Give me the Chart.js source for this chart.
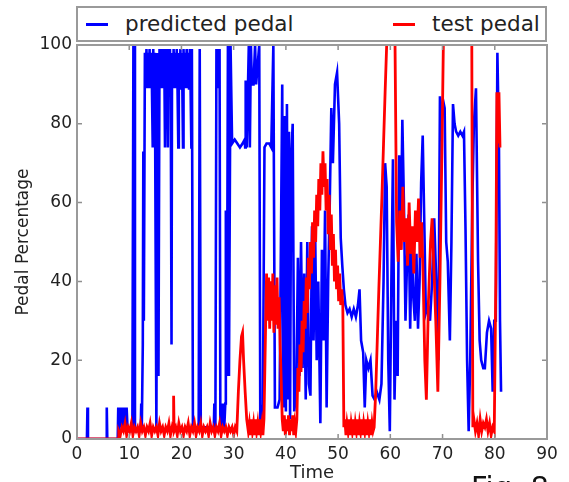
<!DOCTYPE html>
<html>
<head>
<meta charset="utf-8">
<script src="https://cdn.jsdelivr.net/npm/chart.js@4.4.1/dist/chart.umd.min.js"></script>
<style>
html,body{margin:0;padding:0;background:#fff;overflow:hidden;width:569px;height:482px;}
#wrap{position:relative;width:569px;height:482px;overflow:hidden;}
#c{position:absolute;left:0;top:0;}
.legend{position:absolute;left:76px;top:6px;width:467px;height:32px;border:2px solid #9a9a9a;background:#fff;font-family:'DejaVu Sans',sans-serif;font-size:21.5px;color:#222;}
.legend .sw{position:absolute;top:15px;width:22px;height:2.5px;}
.legend .tx{position:absolute;top:0;line-height:32px;white-space:nowrap;}
.fig{position:absolute;left:471px;top:473px;font-family:'DejaVu Sans',sans-serif;font-size:29px;line-height:29px;color:#111;white-space:nowrap;}
</style>
</head>
<body>
<div id="wrap">
<canvas id="c" width="569" height="482"></canvas>
<div class="legend">
  <div class="sw" style="left:8px;background:#0000ff;"></div>
  <div class="tx" style="left:47px;">predicted pedal</div>
  <div class="sw" style="left:315px;background:#ff0000;"></div>
  <div class="tx" style="left:354px;">test pedal</div>
</div>
<div class="fig">Fig. 8</div>
</div>
<script>
const xTicks = [0,10,20,30,40,50,60,70,80,90];
const yTicks = [0,20,40,60,80,100];

const predTime = [0,1.9,2.0,2.1,5.6,5.7,5.8,7.8,7.9,8.1,8.3,8.5,8.7,8.9,9.1,9.3,9.5,9.7,10.6,10.8,11.0,11.1,12.2,12.3,12.4,12.6,12.7,12.8,13.0,13.15,13.3,13.45,13.6,13.75,13.9,14.05,14.2,14.35,14.5,14.6,14.75,14.9,15.2,15.4,15.6,15.8,15.95,16.1,16.25,16.4,16.55,16.7,16.85,16.95,17.1,17.25,17.4,17.5,17.65,17.8,17.95,18.1,18.2,18.35,18.5,18.65,18.8,18.95,19.1,19.25,19.4,19.5,19.65,19.8,19.95,20.1,20.3,20.4,20.55,20.7,20.85,21.0,21.15,21.3,21.45,21.6,21.75,21.9,22.0,22.2,23.3,23.5,23.7,26.2,26.3,26.5,26.7,26.85,27.0,27.15,27.3,27.45,27.6,27.8,28.0,28.2,28.4,28.5,28.7,28.9,29.1,29.4,29.7,30.2,30.7,31.2,31.7,32.1,32.2,32.3,32.5,32.9,33.1,33.3,33.5,33.8,34.1,34.3,34.9,35.1,35.4,35.6,35.9,36.3,36.8,37.2,37.6,37.9,38.4,38.8,39.3,39.5,39.8,40.0,40.2,40.4,40.6,40.8,41.0,41.3,41.6,42.0,42.3,42.6,42.9,43.2,43.5,43.8,44.1,44.4,44.7,45.0,45.3,45.6,45.9,46.2,46.6,46.9,47.2,47.5,47.8,48.1,48.4,48.7,49.0,49.4,49.8,50.2,50.5,50.8,51.1,51.4,51.8,52.2,52.6,53.0,53.4,53.8,54.1,54.4,54.8,55.1,55.4,55.8,56.2,56.6,57.0,57.4,57.9,58.3,58.7,59.0,59.3,59.6,59.9,60.2,60.5,60.8,61.1,61.4,61.7,62.0,62.3,62.6,62.9,63.2,63.5,63.8,64.1,64.4,64.7,65.0,65.3,65.6,65.9,66.2,66.5,66.8,67.2,67.6,68.0,68.4,68.8,69.2,69.5,69.8,70.1,70.4,70.7,71.0,71.4,71.7,72.0,72.3,72.6,73.0,73.4,73.8,74.1,74.4,74.7,75.0,75.3,75.7,76.0,76.4,76.8,77.1,77.4,77.8,78.1,78.5,78.9,79.3,79.6,79.9,80.2,80.5,80.8,81.0,81.2];
const predicted = [0,0,8,0,0,8,0,0,8,2,8,3,8,2,8,3,8,2,2,100,100,2,2,9,2,24,73,30,98,89,99,89,98,89,99,89,98,89,74,99,89,98,3,98,16,99,89,99,89,98,89,99,74,98,89,99,74,98,89,99,89,24,98,89,99,89,98,89,99,89,74,98,89,99,89,98,74,99,89,98,89,99,89,98,89,99,89,74,99,3,3,99,3,3,9,3,99,89,99,89,99,3,9,3,9,3,9,58,16,100,16,100,75,76,75,74,75,76,74,91,74,100,74,100,90,90,100,90,100,2,2,9,74,75,75,74,100,8,8,10,90,8,82,7,85,10,78,5,70,80,7,12,46,16,50,18,42,10,50,14,11,54,25,53,20,40,4,48,25,58,8,40,60,84,70,90,93,80,51,44,38,34,32,33,31,33,31,34,38,25,22,8,20,18,20,11,10,12,10,14,40,70,64,20,2,40,71,10,30,16,72,50,81,60,30,45,57,28,50,36,30,47,28,40,65,77,55,32,34,30,40,56,40,20,87,80,86,84,50,45,25,50,85,80,78,77,78,77,78,53,20,2,20,60,80,89,45,25,20,18,18,27,30,28,12,30,30,98,75,30,12];

const testTime = [0,7.9,8.0,8.3,8.6,8.9,9.2,9.5,9.8,10.1,10.4,10.7,11.0,11.3,11.6,11.9,12.2,12.5,12.8,13.1,13.4,13.7,14.0,14.3,14.6,14.9,15.2,15.5,15.8,16.1,16.4,16.7,17.0,17.3,17.6,17.9,18.2,18.4,18.5,18.6,18.9,19.2,19.5,19.8,20.1,20.4,20.7,21.0,21.3,21.6,21.9,22.2,22.5,22.8,23.1,23.4,23.7,24.0,24.3,24.6,24.9,25.2,25.5,25.8,26.1,26.4,26.7,27.0,27.3,27.6,27.9,28.2,28.5,28.8,29.1,29.4,29.7,30.0,30.3,30.6,30.9,31.2,31.5,31.7,31.9,32.2,32.5,32.8,33.0,33.2,33.4,33.6,33.8,34.0,34.2,34.4,34.6,34.8,35.0,35.2,35.4,35.6,35.8,36.0,36.3,36.5,36.7,36.9,37.1,37.3,37.5,37.7,37.9,38.1,38.3,38.5,38.7,38.9,39.1,39.3,39.5,39.7,39.9,40.1,40.3,40.5,40.7,40.9,41.1,41.3,41.5,41.7,41.9,42.1,42.3,42.5,42.7,42.9,43.1,43.3,43.5,43.7,43.9,44.1,44.3,44.5,44.7,44.9,45.1,45.3,45.5,45.7,45.9,46.1,46.3,46.5,46.7,46.9,47.1,47.3,47.5,47.7,47.9,48.1,48.3,48.5,48.7,48.9,49.1,49.3,49.5,49.7,49.9,50.1,50.3,50.5,50.7,50.9,51.1,51.3,51.5,51.7,51.9,52.1,52.3,52.5,52.7,52.9,53.1,53.3,53.5,53.7,53.9,54.1,54.3,54.5,54.7,54.9,55.1,55.3,55.5,55.7,55.9,56.1,56.3,56.5,56.7,56.9,57.2,57.5,57.8,58.1,58.4,58.7,59.0,59.3,59.6,60.2,60.8,61.2,61.5,61.8,62.1,62.4,62.7,63.0,63.3,63.6,63.9,64.2,64.5,64.8,65.1,65.4,65.7,66.0,66.3,66.6,66.9,67.3,67.7,68.0,68.3,68.7,69.1,69.5,69.9,70.3,70.7,75.3,75.6,75.8,76.0,76.3,76.6,76.9,77.2,77.5,77.8,78.1,78.4,78.7,79.0,79.3,79.6,79.9,80.2,80.4,80.6,80.8,81.0,81.2];
const testPedal = [0,0,2,1,3,2,4,1,3,2,4,1,3,2,3,1,4,2,3,1,3,2,4,1,3,2,3,1,4,2,3,1,3,2,4,1,3,2,11,2,3,1,4,2,3,1,3,2,4,1,3,2,4,1,3,2,4,1,3,2,3,1,4,2,3,1,3,2,4,1,3,2,3,1,3,2,3,1,3,2,12,20,26,27,20,12,5,2,4,1,5,2,4,1,5,2,4,1,5,2,4,1,5,20,42,30,41,28,40,30,42,27,39,29,41,28,36,24,15,5,2,6,1,5,2,6,1,5,2,6,1,4,2,5,18,12,24,17,30,22,35,28,41,32,46,38,50,42,55,46,58,50,62,54,66,58,70,62,73,64,70,58,66,52,62,48,57,44,52,40,48,38,44,35,42,34,38,34,3,5,1,4,2,5,1,4,2,5,1,4,2,5,1,4,2,5,1,4,2,5,1,4,2,5,1,4,2,3,12,25,38,50,62,75,88,100,115,115,115,55,45,58,48,64,50,56,44,60,47,54,42,58,50,61,46,55,40,20,10,35,50,56,45,30,12,40,75,115,115,115,100,3,5,2,4,1,5,2,4,3,5,2,4,1,3,2,40,88,75,88,74];

const predPts = predTime.map((t,i)=>({x:t,y:predicted[i]}));
const testPts = testTime.map((t,i)=>({x:t,y:testPedal[i]}));

const FONT = "'DejaVu Sans', sans-serif";

const frame = {
  id:'frame',
  afterDatasetsDraw(chart){
    const {ctx, chartArea:a, scales:{x,y}} = chart;
    ctx.save();
    ctx.strokeStyle = '#8f8f8f';
    ctx.lineWidth = 1.5;
    ctx.beginPath();
    x.ticks.forEach(t=>{
      const p = x.getPixelForValue(t.value);
      ctx.moveTo(p, a.bottom); ctx.lineTo(p, a.bottom-5);
      ctx.moveTo(p, a.top); ctx.lineTo(p, a.top+5);
    });
    y.ticks.forEach(t=>{
      const p = y.getPixelForValue(t.value);
      ctx.moveTo(a.left, p); ctx.lineTo(a.left+5, p);
      ctx.moveTo(a.right, p); ctx.lineTo(a.right-5, p);
    });
    ctx.stroke();
    ctx.strokeStyle = '#9a9a9a';
    ctx.lineWidth = 2;
    ctx.strokeRect(a.left, a.top, a.width, a.height);
    ctx.restore();
  }
};

new Chart(document.getElementById('c'), {
  type: 'line',
  data: {
    datasets: [
      {label:'predicted pedal', data: predPts, borderColor:'#0000ff', backgroundColor:'#0000ff', borderWidth:2.6, pointRadius:0, tension:0, clip:0, order:1},
      {label:'test pedal', data: testPts, borderColor:'#ff0000', backgroundColor:'#ff0000', borderWidth:2.8, pointRadius:0, tension:0, clip:0, order:0}
    ]
  },
  options: {
    responsive:false,
    animation:false,
    events:[],
    layout:{padding:{top:45, right:22, left:0, bottom:0}},
    plugins:{legend:{display:false}, tooltip:{enabled:false}},
    scales:{
      x:{
        type:'linear', min:0, max:90,
        afterBuildTicks: s => { s.ticks = xTicks.map(v=>({value:v})); },
        afterFit: s => { s.height = 43; },
        grid:{display:false, drawTicks:false},
        border:{display:false},
        ticks:{font:{family:FONT, size:17}, color:'#222', padding:5, maxRotation:0, autoSkip:false},
        title:{display:true, text:'Time', font:{family:FONT, size:18, lineHeight:1}, color:'#222', padding:{top:0,bottom:0}}
      },
      y:{
        type:'linear', min:0, max:100,
        afterBuildTicks: s => { s.ticks = yTicks.map(v=>({value:v})); },
        afterFit: s => { s.width = 77; },
        grid:{display:false, drawTicks:false},
        border:{display:false},
        ticks:{font:{family:FONT, size:17}, color:'#222', padding:5, autoSkip:false},
        title:{display:true, text:'Pedal Percentage', font:{family:FONT, size:17, lineHeight:1}, color:'#222', padding:{top:15,bottom:0}}
      }
    }
  },
  plugins:[frame]
});
</script>
</body>
</html>
